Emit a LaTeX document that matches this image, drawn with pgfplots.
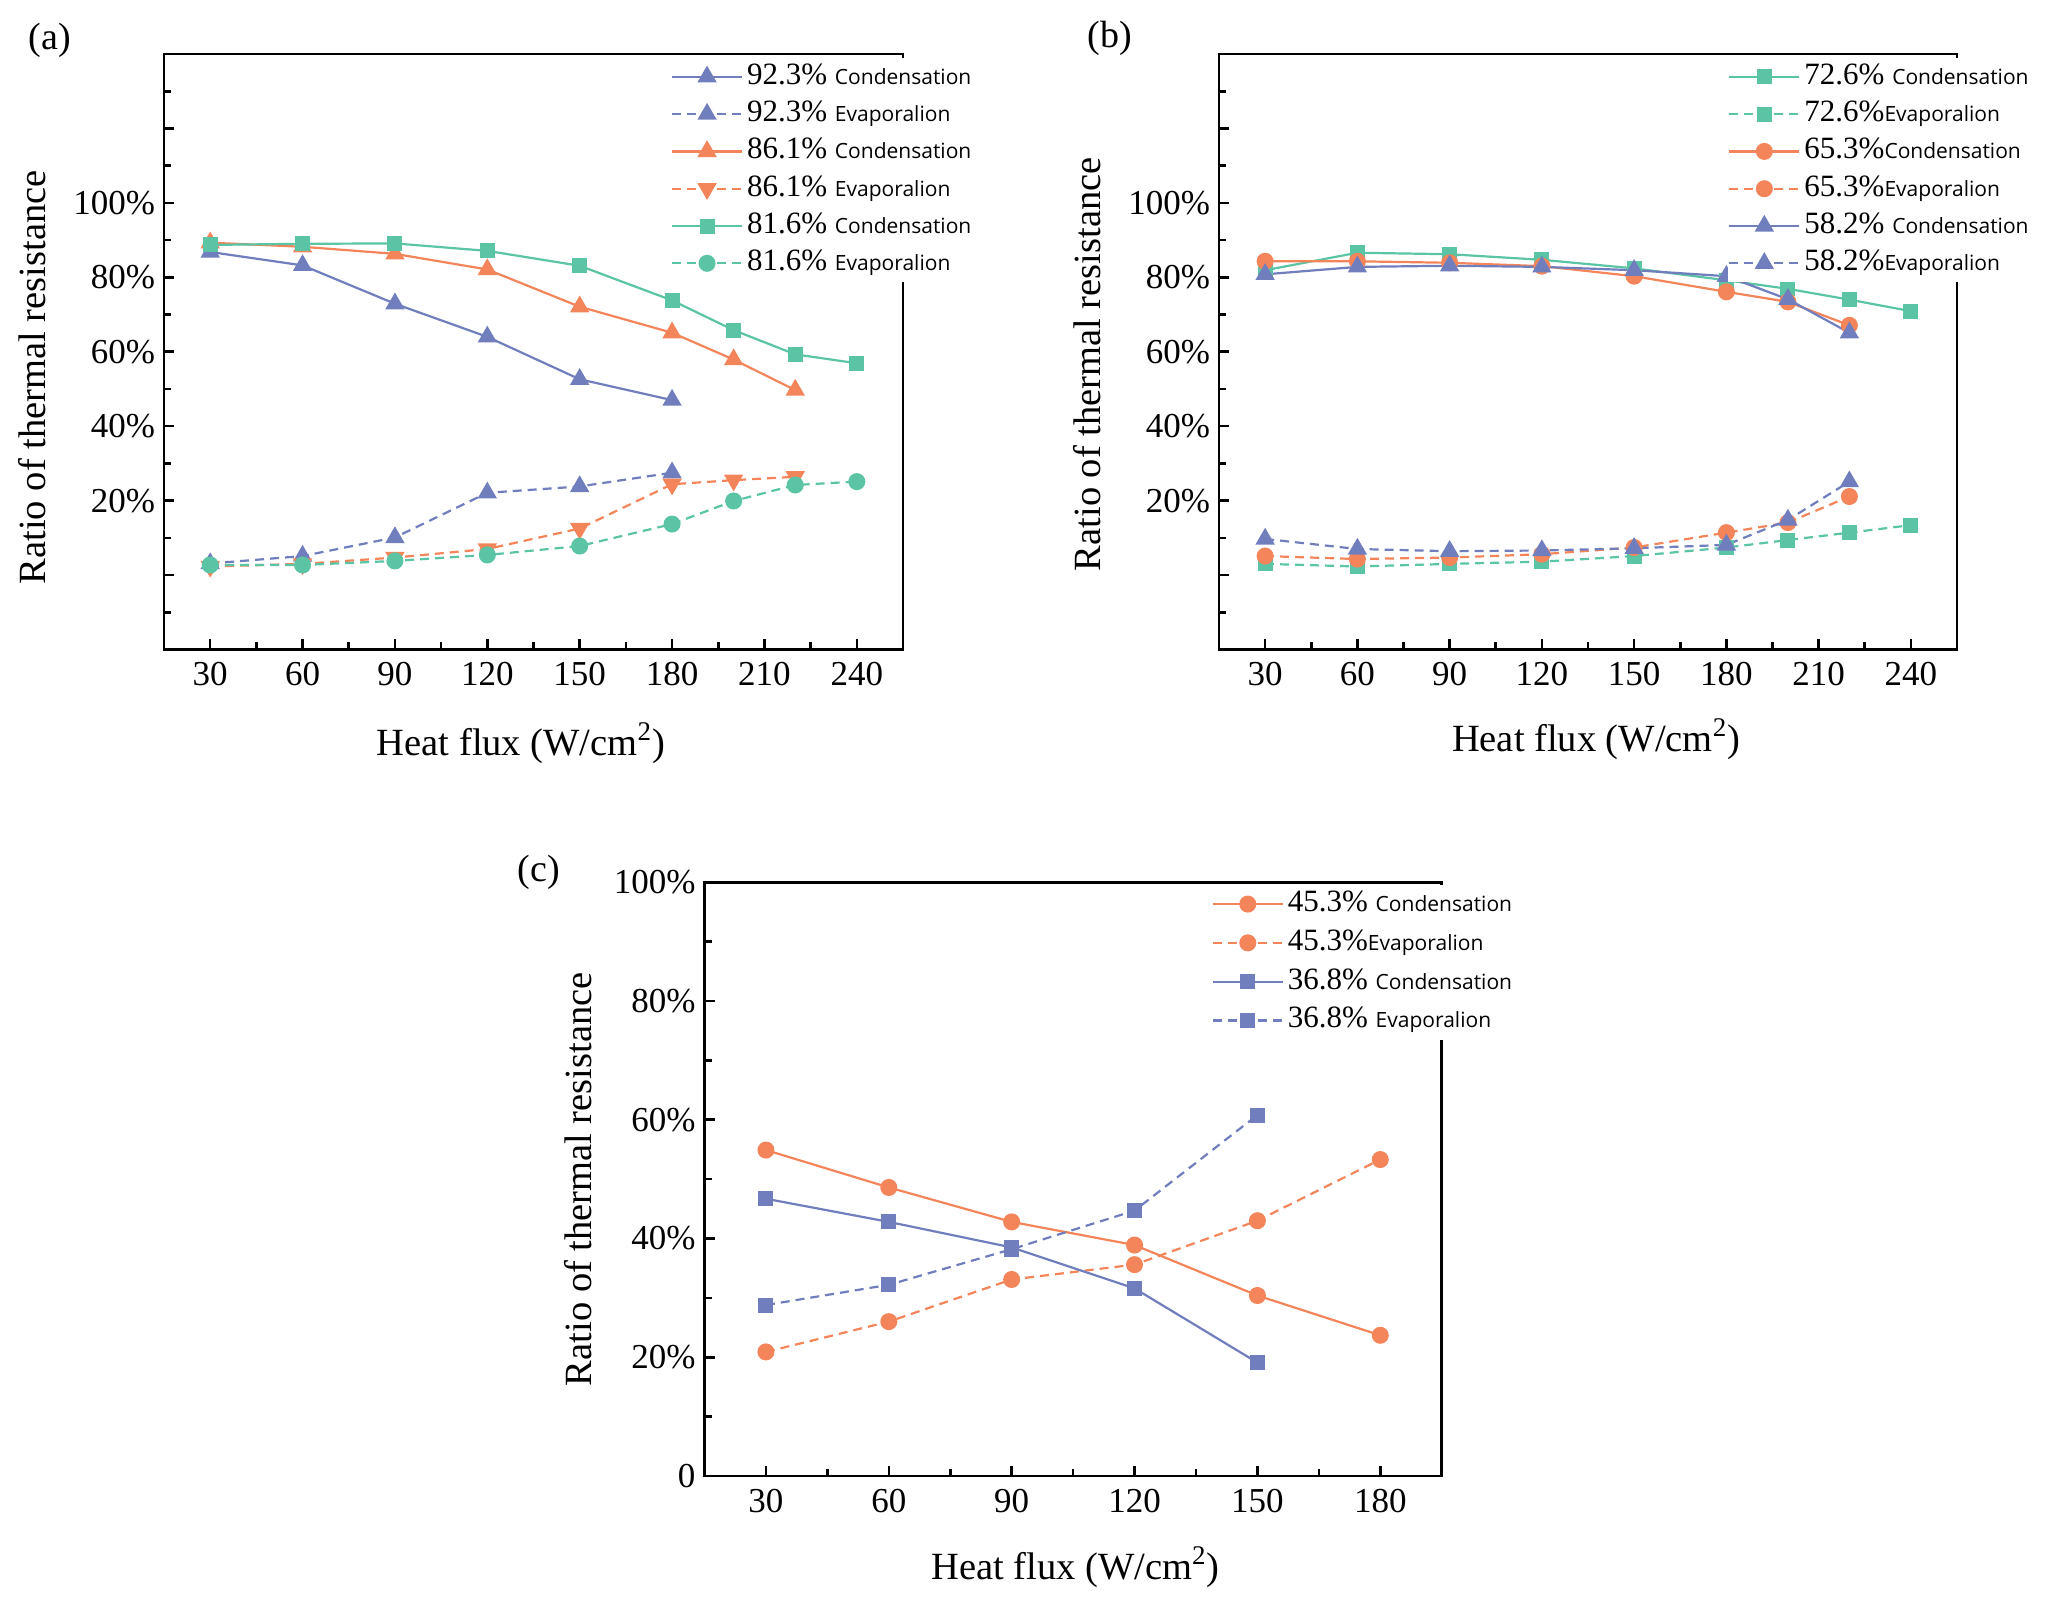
\documentclass[border=0pt]{standalone}
\usepackage{fontspec}
\setmainfont{Liberation Serif}
\newfontfamily\legsans{Open Sans}
\usepackage{pgfplots}
\pgfplotsset{compat=1.18}
\definecolor{cblue}{RGB}{112,126,190}
\definecolor{corange}{RGB}{244,132,90}
\definecolor{cteal}{RGB}{90,196,164}
\newcommand{\lw}[1]{{\legsans\fontsize{10.5}{12}\selectfont #1}}
\pgfplotsset{
 myaxis/.style={
  scale only axis,
  axis line style={line width=1.3pt},
  every tick/.append style={black, line width=1.3pt},
  major tick length=5pt, minor tick length=3.5pt,
  tick pos=left, tick align=inside,
  tick label style={font=\rmfamily\fontsize{17.5}{20}\selectfont},
  /pgf/number format/assume math mode=true,
  xticklabel style={yshift=-3pt},
  yticklabel style={xshift=-1pt},
  label style={font=\rmfamily\fontsize{19.25}{22}\selectfont},
  legend cell align=left,
  legend style={draw=none, fill=white, inner sep=0pt, outer sep=0pt,
    font=\rmfamily\fontsize{15.5}{17}\selectfont,
    nodes={inner sep=2pt, text height=11pt, text depth=3.65pt}, row sep=0pt},
  legend image code/.code={\draw[mark repeat=2,mark phase=2,##1] plot coordinates {(0pt,0pt) (17.5pt,0pt) (35pt,0pt)};},
  every axis plot/.append style={line width=1.1pt},
 },
 dsh/.style={dash pattern=on 4.5pt off 3pt},
 tri/.style={mark=triangle*, mark size=4.5pt, mark options={solid}},
 itri/.style={mark=triangle*, mark size=4.5pt, mark options={solid, rotate=180}},
 sq/.style={mark=square*, mark size=3.2pt, mark options={solid}},
 ci/.style={mark=*, mark size=3.7pt, mark options={solid}},
}
\begin{document}
\begin{tikzpicture}
\useasboundingbox (0,0) rectangle (1025.5pt,798pt);
% ---------------- (a)
\begin{axis}[myaxis, at={(82pt,473.25pt)}, anchor=south west,
  width=369.5pt, height=297.75pt,
  xmin=15, xmax=255, ymin=-20, ymax=140,
  xtick={30,60,...,240}, minor xtick={45,75,...,225},
  ytick={0,20,...,120}, yticklabels={,20\%,40\%,60\%,80\%,100\%,},
  minor ytick={-10,10,...,130},
  xlabel={Heat flux (W/cm\textsuperscript{2})},
  ylabel={Ratio of thermal resistance},
  xlabel style={at={(axis description cs:0.483,-0.158)}, anchor=center},
  ylabel style={at={(axis description cs:-0.1786,0.457)}, anchor=center},
  legend style={at={(axis description cs:0.686,0.993)}, anchor=north west},
]
\addplot[cblue, tri] coordinates {(30,86.8)(60,83.2)(90,72.9)(120,64.0)(150,52.6)(180,47.0)};
\addlegendentry{92.3\% \lw{Condensation}}
\addplot[cblue, dsh, tri] coordinates {(30,3.1)(60,5.1)(90,10.1)(120,22.1)(150,23.8)(180,27.5)};
\addlegendentry{92.3\% \lw{Evaporalion}}
\addplot[corange, tri] coordinates {(30,89.3)(60,88.2)(90,86.3)(120,82.1)(150,72.1)(180,65.1)(200,57.9)(220,49.7)};
\addlegendentry{86.1\% \lw{Condensation}}
\addplot[corange, dsh, itri] coordinates {(30,2.3)(60,3.0)(90,4.7)(120,7.0)(150,12.5)(180,24.4)(200,25.5)(220,26.4)};
\addlegendentry{86.1\% \lw{Evaporalion}}
\addplot[cteal, sq] coordinates {(30,88.7)(60,89.0)(90,89.1)(120,87.1)(150,83.1)(180,73.8)(200,65.8)(220,59.3)(240,56.9)};
\addlegendentry{81.6\% \lw{Condensation}}
\addplot[cteal, dsh, ci] coordinates {(30,2.7)(60,2.7)(90,3.8)(120,5.4)(150,7.8)(180,13.7)(200,19.9)(220,24.2)(240,25.1)};
\addlegendentry{81.6\% \lw{Evaporalion}}
\end{axis}
% ---------------- (b)
\begin{axis}[myaxis, at={(609.5pt,473.25pt)}, anchor=south west,
  width=369pt, height=297.75pt,
  xmin=15, xmax=255, ymin=-20, ymax=140,
  xtick={30,60,...,240}, minor xtick={45,75,...,225},
  ytick={0,20,...,120}, yticklabels={,20\%,40\%,60\%,80\%,100\%,},
  minor ytick={-10,10,...,130},
  xlabel={Heat flux (W/cm\textsuperscript{2})},
  ylabel={Ratio of thermal resistance},
  xlabel style={at={(axis description cs:0.511,-0.150)}, anchor=center},
  ylabel style={at={(axis description cs:-0.1789,0.479)}, anchor=center},
  legend style={at={(axis description cs:0.690,0.993)}, anchor=north west},
]
\addplot[cteal, sq] coordinates {(30,81.9)(60,86.6)(90,86.2)(120,84.7)(150,82.4)(180,79.2)(200,76.9)(220,74.0)(240,70.9)};
\addlegendentry{72.6\% \lw{Condensation}}
\addplot[cteal, dsh, sq] coordinates {(30,3.0)(60,2.3)(90,3.0)(120,3.6)(150,5.1)(180,7.4)(200,9.4)(220,11.4)(240,13.4)};
\addlegendentry{72.6\%\lw{Evaporalion}}
\addplot[corange, ci] coordinates {(30,84.3)(60,84.3)(90,83.9)(120,83.0)(150,80.3)(180,76.1)(200,73.4)(220,67.1)};
\addlegendentry{65.3\%\lw{Condensation}}
\addplot[corange, dsh, ci] coordinates {(30,5.1)(60,4.3)(90,4.7)(120,5.6)(150,7.4)(180,11.4)(200,14.1)(220,21.1)};
\addlegendentry{65.3\%\lw{Evaporalion}}
\addplot[cblue, tri] coordinates {(30,80.8)(60,82.8)(90,83.1)(120,82.8)(150,81.9)(180,80.3)(200,74.1)(220,65.1)};
\addlegendentry{58.2\% \lw{Condensation}}
\addplot[cblue, dsh, tri] coordinates {(30,9.7)(60,7.0)(90,6.4)(120,6.6)(150,7.2)(180,8.1)(200,14.8)(220,25.1)};
\addlegendentry{58.2\%\lw{Evaporalion}}
\end{axis}
% ---------------- (c)
\begin{axis}[myaxis, at={(352.25pt,60pt)}, anchor=south west,
  width=368.6pt, height=296.85pt,
  xmin=15, xmax=195, ymin=0, ymax=100,
  xtick={30,60,...,180}, minor xtick={45,75,...,165},
  ytick={0,20,...,100}, yticklabels={0,20\%,40\%,60\%,80\%,100\%},
  minor ytick={10,30,...,90},
  xlabel={Heat flux (W/cm\textsuperscript{2})},
  ylabel={Ratio of thermal resistance},
  xlabel style={at={(axis description cs:0.503,-0.153)}, anchor=center},
  ylabel style={at={(axis description cs:-0.1716,0.5)}, anchor=center},
  legend style={at={(axis description cs:0.688,0.996)}, anchor=north west,
    nodes={inner sep=2pt, text height=11.4pt, text depth=4pt}},
]
\addplot[corange, ci] coordinates {(30,54.9)(60,48.6)(90,42.8)(120,38.9)(150,30.4)(180,23.7)};
\addlegendentry{45.3\% \lw{Condensation}}
\addplot[corange, dsh, ci] coordinates {(30,20.9)(60,26.0)(90,33.1)(120,35.6)(150,43.0)(180,53.3)};
\addlegendentry{45.3\%\lw{Evaporalion}}
\addplot[cblue, sq] coordinates {(30,46.7)(60,42.8)(90,38.5)(120,31.6)(150,19.1)};
\addlegendentry{36.8\% \lw{Condensation}}
\addplot[cblue, dsh, sq] coordinates {(30,28.8)(60,32.2)(90,38.2)(120,44.7)(150,60.8)};
\addlegendentry{36.8\% \lw{Evaporalion}}
\end{axis}
\node[font=\rmfamily\fontsize{19}{22}\selectfont] at (25pt,778pt) {(a)};
\node[font=\rmfamily\fontsize{19}{22}\selectfont] at (555pt,779pt) {(b)};
\node[font=\rmfamily\fontsize{19}{22}\selectfont] at (269.5pt,362pt) {(c)};
\end{tikzpicture}
\end{document}
